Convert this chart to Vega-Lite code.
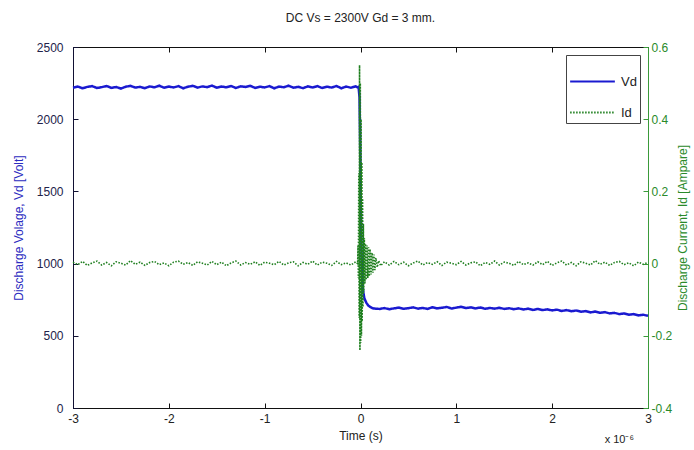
{
  "$schema": "https://vega.github.io/schema/vega-lite/v6.json",
  "width": 575,
  "height": 361,
  "autosize": "none",
  "padding": {"left": 73, "top": 47, "right": 46, "bottom": 42},
  "background": "white",
  "title": {"text": "DC Vs = 2300V Gd = 3 mm.", "fontSize": 12, "fontWeight": "normal", "font": "Liberation Sans", "color": "#222222", "anchor": "middle", "frame": "group", "baseline": "bottom", "offset": 23, "dy": 19},
  "config": {
    "font": "Liberation Sans",
    "view": {"stroke": "#111111", "strokeWidth": 1},
    "axis": {"grid": false, "labelFontSize": 12, "titleFontSize": 12, "titleFontWeight": "normal", "labelFlush": false, "labelOverlap": false, "tickSize": -5, "tickWidth": 1, "domainWidth": 1},
    "legend": {"orient": "top-right", "offset": 8, "strokeColor": "#444444", "fillColor": "white", "padding": 3, "symbolType": "stroke", "symbolSize": 2000, "symbolStrokeWidth": 2, "labelFontSize": 13, "labelColor": "#222222", "rowPadding": -1, "labelOffset": 5}
  },
  "datasets": {
    "volt": [
      {"t": -3.00, "v": 2218}, {"t": -2.95, "v": 2226}, {"t": -2.90, "v": 2214}, {"t": -2.85, "v": 2224}, {"t": -2.80, "v": 2229},
      {"t": -2.75, "v": 2216}, {"t": -2.70, "v": 2222}, {"t": -2.65, "v": 2230}, {"t": -2.60, "v": 2217}, {"t": -2.55, "v": 2223},
      {"t": -2.50, "v": 2212}, {"t": -2.45, "v": 2225}, {"t": -2.40, "v": 2231}, {"t": -2.35, "v": 2219}, {"t": -2.30, "v": 2224},
      {"t": -2.25, "v": 2215}, {"t": -2.20, "v": 2227}, {"t": -2.15, "v": 2221}, {"t": -2.10, "v": 2232}, {"t": -2.05, "v": 2218},
      {"t": -2.00, "v": 2226}, {"t": -1.95, "v": 2220}, {"t": -1.90, "v": 2229}, {"t": -1.85, "v": 2214}, {"t": -1.80, "v": 2225},
      {"t": -1.75, "v": 2231}, {"t": -1.70, "v": 2219}, {"t": -1.65, "v": 2227}, {"t": -1.60, "v": 2222}, {"t": -1.55, "v": 2233},
      {"t": -1.50, "v": 2218}, {"t": -1.45, "v": 2226}, {"t": -1.40, "v": 2221}, {"t": -1.35, "v": 2230}, {"t": -1.30, "v": 2216},
      {"t": -1.25, "v": 2228}, {"t": -1.20, "v": 2223}, {"t": -1.15, "v": 2231}, {"t": -1.10, "v": 2217}, {"t": -1.05, "v": 2225},
      {"t": -1.00, "v": 2220}, {"t": -0.95, "v": 2229}, {"t": -0.90, "v": 2214}, {"t": -0.85, "v": 2226}, {"t": -0.80, "v": 2221},
      {"t": -0.75, "v": 2232}, {"t": -0.70, "v": 2218}, {"t": -0.65, "v": 2224}, {"t": -0.60, "v": 2215}, {"t": -0.55, "v": 2227},
      {"t": -0.50, "v": 2220}, {"t": -0.45, "v": 2229}, {"t": -0.40, "v": 2216}, {"t": -0.35, "v": 2225}, {"t": -0.30, "v": 2219},
      {"t": -0.25, "v": 2230}, {"t": -0.20, "v": 2214}, {"t": -0.15, "v": 2226}, {"t": -0.10, "v": 2218}, {"t": -0.05, "v": 2227},
      {"t": -0.03, "v": 2220}, {"t": -0.02, "v": 2224}, {"t": -0.01, "v": 2150}, {"t": -0.005, "v": 1900}, {"t": 0.0, "v": 1600},
      {"t": 0.005, "v": 1350}, {"t": 0.01, "v": 1100}, {"t": 0.015, "v": 950}, {"t": 0.02, "v": 860}, {"t": 0.03, "v": 800},
      {"t": 0.04, "v": 760}, {"t": 0.06, "v": 730}, {"t": 0.08, "v": 710}, {"t": 0.10, "v": 700}, {"t": 0.13, "v": 690},
      {"t": 0.16, "v": 688},
      {"t": 0.20, "v": 686}, {"t": 0.25, "v": 692}, {"t": 0.30, "v": 684}, {"t": 0.35, "v": 690}, {"t": 0.40, "v": 695},
      {"t": 0.45, "v": 687}, {"t": 0.50, "v": 691}, {"t": 0.55, "v": 697}, {"t": 0.60, "v": 688}, {"t": 0.65, "v": 693},
      {"t": 0.70, "v": 686}, {"t": 0.75, "v": 698}, {"t": 0.80, "v": 690}, {"t": 0.85, "v": 694}, {"t": 0.90, "v": 700},
      {"t": 0.95, "v": 689}, {"t": 1.00, "v": 695}, {"t": 1.05, "v": 701}, {"t": 1.10, "v": 692}, {"t": 1.15, "v": 697},
      {"t": 1.20, "v": 690}, {"t": 1.25, "v": 696}, {"t": 1.30, "v": 687}, {"t": 1.35, "v": 693}, {"t": 1.40, "v": 688},
      {"t": 1.45, "v": 694}, {"t": 1.50, "v": 686}, {"t": 1.55, "v": 691}, {"t": 1.60, "v": 684}, {"t": 1.65, "v": 690},
      {"t": 1.70, "v": 682}, {"t": 1.75, "v": 688}, {"t": 1.80, "v": 679}, {"t": 1.85, "v": 686}, {"t": 1.90, "v": 678},
      {"t": 1.95, "v": 683}, {"t": 2.00, "v": 676}, {"t": 2.05, "v": 681}, {"t": 2.10, "v": 672}, {"t": 2.15, "v": 678},
      {"t": 2.20, "v": 670}, {"t": 2.25, "v": 675}, {"t": 2.30, "v": 667}, {"t": 2.35, "v": 671}, {"t": 2.40, "v": 662},
      {"t": 2.45, "v": 668}, {"t": 2.50, "v": 659}, {"t": 2.55, "v": 664}, {"t": 2.60, "v": 655}, {"t": 2.65, "v": 659},
      {"t": 2.70, "v": 650}, {"t": 2.75, "v": 655}, {"t": 2.80, "v": 646}, {"t": 2.85, "v": 650}, {"t": 2.90, "v": 641},
      {"t": 2.95, "v": 646}, {"t": 3.00, "v": 638}
    ],
    "curr": [
      {"t": -3.00, "i": 0.004}, {"t": -2.95, "i": -0.003}, {"t": -2.90, "i": 0.006}, {"t": -2.85, "i": -0.005}, {"t": -2.80, "i": 0.002},
      {"t": -2.75, "i": 0.007}, {"t": -2.70, "i": -0.004}, {"t": -2.65, "i": 0.003}, {"t": -2.60, "i": -0.006}, {"t": -2.55, "i": 0.005},
      {"t": -2.50, "i": 0.001}, {"t": -2.45, "i": -0.004}, {"t": -2.40, "i": 0.008}, {"t": -2.35, "i": -0.002}, {"t": -2.30, "i": 0.004},
      {"t": -2.25, "i": -0.005}, {"t": -2.20, "i": 0.003}, {"t": -2.15, "i": 0.006}, {"t": -2.10, "i": -0.003}, {"t": -2.05, "i": 0.002},
      {"t": -2.00, "i": -0.006}, {"t": -1.95, "i": 0.004}, {"t": -1.90, "i": 0.007}, {"t": -1.85, "i": -0.002}, {"t": -1.80, "i": 0.003},
      {"t": -1.75, "i": -0.005}, {"t": -1.70, "i": 0.005}, {"t": -1.65, "i": 0.001}, {"t": -1.60, "i": -0.004}, {"t": -1.55, "i": 0.006},
      {"t": -1.50, "i": -0.003}, {"t": -1.45, "i": 0.004}, {"t": -1.40, "i": -0.006}, {"t": -1.35, "i": 0.002}, {"t": -1.30, "i": 0.007},
      {"t": -1.25, "i": -0.004}, {"t": -1.20, "i": 0.003}, {"t": -1.15, "i": -0.002}, {"t": -1.10, "i": 0.005}, {"t": -1.05, "i": -0.005},
      {"t": -1.00, "i": 0.004}, {"t": -0.95, "i": 0.001}, {"t": -0.90, "i": -0.003}, {"t": -0.85, "i": 0.006}, {"t": -0.80, "i": -0.004},
      {"t": -0.75, "i": 0.002}, {"t": -0.70, "i": 0.005}, {"t": -0.65, "i": -0.006}, {"t": -0.60, "i": 0.003}, {"t": -0.55, "i": -0.002},
      {"t": -0.50, "i": 0.007}, {"t": -0.45, "i": -0.004}, {"t": -0.40, "i": 0.004}, {"t": -0.35, "i": 0.001}, {"t": -0.30, "i": -0.005},
      {"t": -0.25, "i": 0.006}, {"t": -0.20, "i": -0.003}, {"t": -0.15, "i": 0.002}, {"t": -0.10, "i": -0.004}, {"t": -0.05, "i": 0.005},
      {"t": -0.030, "i": 0.0}, {"t": -0.026, "i": 0.05}, {"t": -0.022, "i": -0.04}, {"t": -0.018, "i": 0.25}, {"t": -0.014, "i": -0.15},
      {"t": -0.010, "i": 0.55}, {"t": -0.006, "i": -0.24}, {"t": -0.002, "i": 0.50}, {"t": 0.002, "i": -0.22}, {"t": 0.006, "i": 0.40},
      {"t": 0.010, "i": -0.20}, {"t": 0.014, "i": 0.28}, {"t": 0.018, "i": -0.16}, {"t": 0.022, "i": 0.18}, {"t": 0.026, "i": -0.12},
      {"t": 0.030, "i": 0.11}, {"t": 0.034, "i": -0.08}, {"t": 0.040, "i": 0.07}, {"t": 0.046, "i": -0.055}, {"t": 0.052, "i": 0.055},
      {"t": 0.060, "i": -0.045}, {"t": 0.068, "i": 0.05}, {"t": 0.076, "i": -0.04}, {"t": 0.084, "i": 0.045}, {"t": 0.092, "i": -0.035},
      {"t": 0.100, "i": 0.04}, {"t": 0.110, "i": -0.03}, {"t": 0.120, "i": 0.03}, {"t": 0.130, "i": -0.025}, {"t": 0.140, "i": 0.025},
      {"t": 0.150, "i": -0.018}, {"t": 0.160, "i": 0.016}, {"t": 0.175, "i": -0.01}, {"t": 0.19, "i": 0.008}, {"t": 0.21, "i": -0.006},
      {"t": 0.25, "i": 0.005},
      {"t": 0.30, "i": -0.004}, {"t": 0.35, "i": 0.006}, {"t": 0.40, "i": -0.003}, {"t": 0.45, "i": 0.004}, {"t": 0.50, "i": -0.006},
      {"t": 0.55, "i": 0.002}, {"t": 0.60, "i": 0.007}, {"t": 0.65, "i": -0.004}, {"t": 0.70, "i": 0.003}, {"t": 0.75, "i": -0.002},
      {"t": 0.80, "i": 0.005}, {"t": 0.85, "i": -0.005}, {"t": 0.90, "i": 0.004}, {"t": 0.95, "i": 0.001}, {"t": 1.00, "i": -0.003},
      {"t": 1.05, "i": 0.006}, {"t": 1.10, "i": -0.004}, {"t": 1.15, "i": 0.002}, {"t": 1.20, "i": 0.005}, {"t": 1.25, "i": -0.006},
      {"t": 1.30, "i": 0.003}, {"t": 1.35, "i": -0.002}, {"t": 1.40, "i": 0.007}, {"t": 1.45, "i": -0.004}, {"t": 1.50, "i": 0.004},
      {"t": 1.55, "i": 0.001}, {"t": 1.60, "i": -0.005}, {"t": 1.65, "i": 0.006}, {"t": 1.70, "i": -0.003}, {"t": 1.75, "i": 0.002},
      {"t": 1.80, "i": -0.004}, {"t": 1.85, "i": 0.005}, {"t": 1.90, "i": -0.003}, {"t": 1.95, "i": 0.006}, {"t": 2.00, "i": -0.005},
      {"t": 2.05, "i": 0.002}, {"t": 2.10, "i": 0.007}, {"t": 2.15, "i": -0.004}, {"t": 2.20, "i": 0.003}, {"t": 2.25, "i": -0.006},
      {"t": 2.30, "i": 0.005}, {"t": 2.35, "i": 0.001}, {"t": 2.40, "i": -0.004}, {"t": 2.45, "i": 0.008}, {"t": 2.50, "i": -0.002},
      {"t": 2.55, "i": 0.004}, {"t": 2.60, "i": -0.005}, {"t": 2.65, "i": 0.003}, {"t": 2.70, "i": 0.006}, {"t": 2.75, "i": -0.003},
      {"t": 2.80, "i": 0.002}, {"t": 2.85, "i": -0.006}, {"t": 2.90, "i": 0.004}, {"t": 2.95, "i": -0.002}, {"t": 3.00, "i": 0.003}
    ],
    "note": [{"label": "x 10⁻⁶"}]
  },
  "layer": [
    {
      "data": {"name": "volt"},
      "mark": {"type": "line", "strokeWidth": 2.5},
      "encoding": {
        "x": {"field": "t", "type": "quantitative", "scale": {"domain": [-3, 3], "nice": false, "zero": false},
          "axis": {"orient": "bottom", "values": [-3, -2, -1, 0, 1, 2, 3], "title": "Time (s)", "labelExpr": "datum.value < 0 ? '-' + format(-datum.value, 'd') : format(datum.value, 'd')", "labelPadding": 10, "labelColor": "#222222", "titleColor": "#222222", "domainColor": "#111111", "tickColor": "#111111", "titlePadding": 6}},
        "y": {"field": "v", "type": "quantitative", "scale": {"domain": [0, 2500], "nice": false},
          "axis": {"orient": "left", "values": [0, 500, 1000, 1500, 2000, 2500], "format": "d", "title": "Discharge Volage, Vd [Volt]", "labelPadding": 15, "labelColor": "#22224a", "titleColor": "#2b2bc0", "domainColor": "#111133", "tickColor": "#111133", "titlePadding": 11}},
        "color": {"datum": "Vd", "type": "nominal", "scale": {"domain": ["Vd", "Id"], "range": ["#1a1ad0", "#1f7f1f"]}, "legend": {"title": null}},
        "strokeDash": {"datum": "Vd", "type": "nominal", "scale": {"domain": ["Vd", "Id"], "range": [[1, 0], [1.5, 1.5]]}, "legend": {"title": null}}
      }
    },
    {
      "data": {"name": "curr"},
      "mark": {"type": "line", "strokeWidth": 1.6},
      "encoding": {
        "x": {"field": "t", "type": "quantitative", "scale": {"domain": [-3, 3], "nice": false, "zero": false},
          "axis": {"orient": "top", "values": [-3, -2, -1, 0, 1, 2, 3], "title": null, "labels": false, "domain": false, "tickColor": "#111111", "minExtent": 0, "maxExtent": 0}},
        "y": {"field": "i", "type": "quantitative", "scale": {"domain": [-0.4, 0.6], "nice": false, "zero": false},
          "axis": {"orient": "right", "values": [-0.4, -0.2, 0, 0.2, 0.4, 0.6], "title": "Discharge Current, Id [Ampare]", "titleAngle": 270, "titleBaseline": "top", "labelExpr": "datum.value == 0 ? '0' : (datum.value < 0 ? '-' + format(-datum.value, '.1f') : format(datum.value, '.1f'))", "labelPadding": 8, "labelColor": "#2a8a2a", "titleColor": "#2a8a2a", "domainColor": "#3a9a3a", "tickColor": "#3a9a3a", "titlePadding": 6}},
        "color": {"datum": "Id", "type": "nominal"},
        "strokeDash": {"datum": "Id", "type": "nominal"}
      }
    },
    {
      "data": {"name": "note"},
      "mark": {"type": "text", "align": "right", "baseline": "alphabetic", "dx": -14, "dy": 35, "fontSize": 11, "color": "#222222"},
      "encoding": {
        "x": {"datum": 3, "type": "quantitative", "axis": null},
        "y": {"datum": 0, "type": "quantitative", "scale": {"domain": [0, 2500], "nice": false}, "axis": null},
        "text": {"field": "label"}
      }
    }
  ],
  "resolve": {"scale": {"y": "independent"}, "axis": {"x": "independent"}}
}
